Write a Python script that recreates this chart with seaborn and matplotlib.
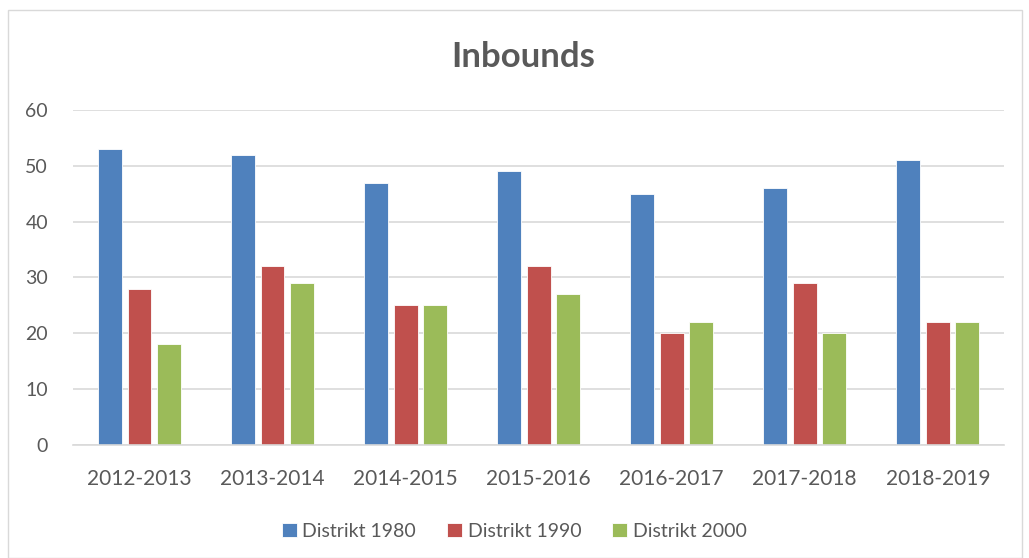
import pandas as pd
import matplotlib.pyplot as plt
import seaborn as sns
from matplotlib.patches import Rectangle

seasons = ['2012-2013', '2013-2014', '2014-2015', '2015-2016', '2016-2017', '2017-2018', '2018-2019']
distrikt_1980 = [53, 52, 47, 49, 45, 46, 51]
distrikt_1990 = [28, 32, 25, 32, 20, 29, 22]
distrikt_2000 = [18, 29, 25, 27, 22, 20, 22]
series_names = ['Distrikt 1980', 'Distrikt 1990', 'Distrikt 2000']
colors = ['#4F81BD', '#C0504D', '#9BBB59']

df = pd.DataFrame({'season': seasons,
                   'Distrikt 1980': distrikt_1980,
                   'Distrikt 1990': distrikt_1990,
                   'Distrikt 2000': distrikt_2000})
long_df = df.melt(id_vars='season', var_name='district', value_name='count')

sns.set_theme(style='white')
plt.rcParams['font.family'] = ['Lato', 'DejaVu Sans']
text_color = '#595959'

fig = plt.figure(figsize=(10.29, 5.58), dpi=100)
ax = fig.add_axes([0.0709, 0.2025, 0.9051, 0.6005])

sns.barplot(data=long_df, x='season', y='count', hue='district', hue_order=series_names,
            palette=colors, width=0.665, gap=0.19, saturation=1, ax=ax,
            edgecolor='white', linewidth=0.6, errorbar=None)

ax.set_ylim(0, 60)
ax.set_yticks(range(0, 61, 10))
ax.set_xlim(-0.5, len(seasons) - 0.5)
ax.yaxis.grid(True, color='#D9D9D9', linewidth=1.2)
ax.set_axisbelow(True)
for s in ['left', 'right', 'top']:
    ax.spines[s].set_visible(False)
ax.spines['bottom'].set_color('#D9D9D9')
ax.spines['bottom'].set_linewidth(1.2)
ax.tick_params(axis='y', labelsize=14, colors=text_color, length=0, pad=18)
ax.tick_params(axis='x', labelsize=15, colors=text_color, length=0, pad=17)
ax.set_xlabel('')
ax.set_ylabel('')

ax.legend(loc='upper center', bbox_to_anchor=(0.474, -0.18), ncol=3, frameon=False,
          fontsize=14, labelcolor=text_color, handlelength=0.75, handleheight=0.75,
          handletextpad=0.3, columnspacing=1.6)

fig.text(0.508, 0.898, 'Inbounds', ha='center', va='center', fontsize=25,
         fontweight='bold', color=text_color)

fig.patches.append(Rectangle((0.008, 0.0), 0.985, 0.982, transform=fig.transFigure,
                             fill=False, edgecolor='#D9D9D9', linewidth=1))

fig.savefig('out.png', dpi=100)
